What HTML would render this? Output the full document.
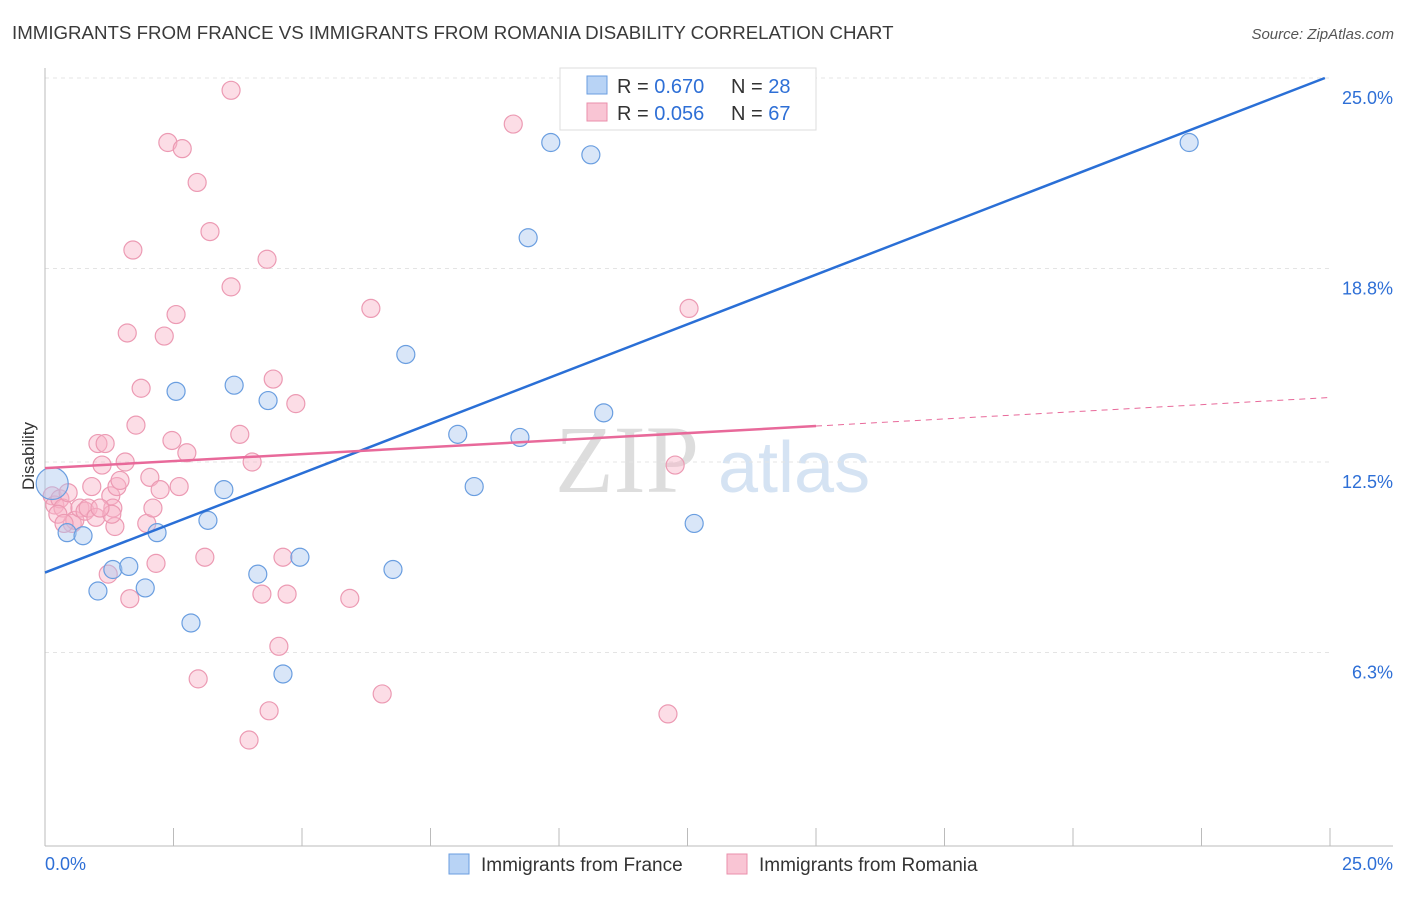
<!DOCTYPE html>
<html><head><meta charset="utf-8"><style>
body{margin:0;background:#fff;font-family:"Liberation Sans",sans-serif;}
</style></head><body>
<svg id="chart" width="1406" height="892" xmlns="http://www.w3.org/2000/svg" font-family="Liberation Sans, sans-serif">
<text x="12" y="39" font-size="18.7" fill="#3a3a3a">IMMIGRANTS FROM FRANCE VS IMMIGRANTS FROM ROMANIA DISABILITY CORRELATION CHART</text>
<text x="1394" y="39" font-size="15" font-style="italic" fill="#555" text-anchor="end">Source: ZipAtlas.com</text>
<text x="555" y="492" font-size="96" font-family="Liberation Serif, serif" fill="#ddd">ZIP</text>
<text x="718" y="492" font-size="72" fill="#d5e3f3">atlas</text>
<g id="grid"></g><g id="axes"></g><g id="pts"></g><g id="lines"></g>
<text transform="translate(34,456) rotate(-90)" font-size="17" fill="#333" text-anchor="middle">Disability</text>
<g>
<rect x="560" y="68" width="256" height="62" fill="#fff" stroke="#ddd"/>
<rect x="587" y="76" width="20" height="18" fill="#b8d3f5" stroke="#6a9ee0"/>
<rect x="587" y="103" width="20" height="18" fill="#f9c5d4" stroke="#ea8fab"/>
<text x="617" y="93" font-size="20" fill="#333">R = <tspan fill="#2e6fd6">0.670</tspan><tspan x="731">N = </tspan><tspan fill="#2e6fd6">28</tspan></text>
<text x="617" y="120" font-size="20" fill="#333">R = <tspan fill="#2e6fd6">0.056</tspan><tspan x="731">N = </tspan><tspan fill="#2e6fd6">67</tspan></text>
</g>
<g>
<rect x="449" y="854" width="20" height="20" fill="#b8d3f5" stroke="#6a9ee0"/>
<text x="481" y="871" font-size="19" fill="#333">Immigrants from France</text>
<rect x="727" y="854" width="20" height="20" fill="#f9c5d4" stroke="#ea8fab"/>
<text x="759" y="871" font-size="19" fill="#333">Immigrants from Romania</text>
</g>
</svg>
<script>
const yTicks=[25.0,18.8,12.5,6.3];
const yTickLabels=["25.0%","18.8%","12.5%","6.3%"];
const xTickLabels=["0.0%","25.0%"];
const franceX=[0.14,0.43,0.74,1.03,1.32,1.63,1.95,2.18,2.55,2.84,3.17,3.48,3.68,4.14,4.34,4.63,4.96,6.77,7.02,8.03,8.35,9.24,9.40,9.84,10.62,10.87,12.63,22.26];
const franceY=[11.8,10.2,10.1,8.3,9.0,9.1,8.4,10.2,14.8,7.26,10.6,11.6,15.0,8.85,14.5,5.6,9.4,9.0,16.0,13.4,11.7,13.3,19.8,22.9,22.5,14.1,10.5,22.9];
const romaniaX=[0.14,0.19,0.29,0.35,0.45,0.53,0.58,0.68,0.78,0.84,0.91,0.99,1.03,1.11,1.17,1.23,1.28,1.32,1.36,1.40,1.46,1.56,1.60,1.65,1.71,1.77,1.87,1.98,2.04,2.10,2.16,2.24,2.32,2.39,2.47,2.55,2.61,2.67,2.76,2.96,2.98,3.11,3.21,3.62,3.62,3.79,3.97,4.03,4.22,4.32,4.36,4.44,4.55,4.63,4.71,4.88,5.93,6.34,6.56,9.11,12.12,12.26,12.53,0.25,0.37,1.30,1.07];
const romaniaY=[11.4,11.1,11.3,11.0,11.5,10.5,10.6,11.0,10.9,11.0,11.7,10.7,13.1,12.4,13.1,8.85,11.4,11.0,10.4,11.7,11.9,12.5,16.7,8.05,19.4,13.7,14.9,10.5,12.0,11.0,9.2,11.6,16.6,22.9,13.2,17.3,11.7,22.7,12.8,21.6,5.44,9.4,20.0,24.6,18.2,13.4,3.45,12.5,8.2,19.1,4.4,15.2,6.5,9.4,8.2,14.4,8.06,17.5,4.95,23.5,4.3,12.4,17.5,10.8,10.5,10.8,11.0];
const franceFit=[0,8.9,24.9,25.0];
const romaniaFit=[0,12.3,15.0,13.67,25,14.6];
const NS="http://www.w3.org/2000/svg";
const X=v=>45+v*51.4, Y=v=>846-v*30.72;
function mk(t,a,p){const e=document.createElementNS(NS,t);for(const k in a)e.setAttribute(k,a[k]);p.appendChild(e);return e;}
const grid=document.getElementById('grid'),axes=document.getElementById('axes'),pts=document.getElementById('pts'),lines=document.getElementById('lines');
yTicks.forEach((t,i)=>{
 const g=mk('line',{x1:45,x2:1330,y1:Y(t),y2:Y(t),stroke:'#e4e4e4','stroke-dasharray':'4,4'},grid);
 
 
 const tx=mk('text',{x:1393,y:Y(t)+26,'font-size':18,fill:'#2e6fd6','text-anchor':'end'},axes);
 tx.textContent=yTickLabels[i];
 
 
});
const ax=mk('line',{x1:45,x2:45,y1:68,y2:846,stroke:'#bbb'},axes);


const bx=mk('line',{x1:45,x2:1393,y1:846,y2:846,stroke:'#bbb'},axes);


for(let i=1;i<=10;i++){const t=mk('line',{x1:X(i*2.5),x2:X(i*2.5),y1:828,y2:846,stroke:'#bbb'},axes);
 
 }
[[45,'start',0],[1393,'end',1]].forEach(([x,a,i])=>{const t=mk('text',{x:x,y:870,'font-size':18,fill:'#2e6fd6','text-anchor':a},axes);t.textContent=xTickLabels[i];
 
 });
romaniaX.forEach((x,i)=>{const c=mk('circle',{cx:X(x),cy:Y(romaniaY[i]),r:9,fill:'rgba(248,180,200,0.45)',stroke:'#ec9ab3','stroke-width':1.2},pts);
 
 });
franceX.forEach((x,i)=>{const c=mk('circle',{cx:X(x),cy:Y(franceY[i]),r:i==0?16:9,fill:'rgba(170,200,240,0.45)',stroke:'#6a9ee0','stroke-width':1.2},pts);
 
 });
const fl=mk('line',{x1:X(franceFit[0]),y1:Y(franceFit[1]),x2:X(franceFit[2]),y2:Y(franceFit[3]),stroke:'#2a6fd6','stroke-width':2.5},lines);


const rl=mk('line',{x1:X(romaniaFit[0]),y1:Y(romaniaFit[1]),x2:X(romaniaFit[2]),y2:Y(romaniaFit[3]),stroke:'#e8699a','stroke-width':2.5},lines);


const rd=mk('line',{x1:X(romaniaFit[2]),y1:Y(romaniaFit[3]),x2:X(romaniaFit[4]),y2:Y(romaniaFit[5]),stroke:'#e8699a','stroke-width':1,'stroke-dasharray':'6,5'},lines);


</script>
</body></html>
